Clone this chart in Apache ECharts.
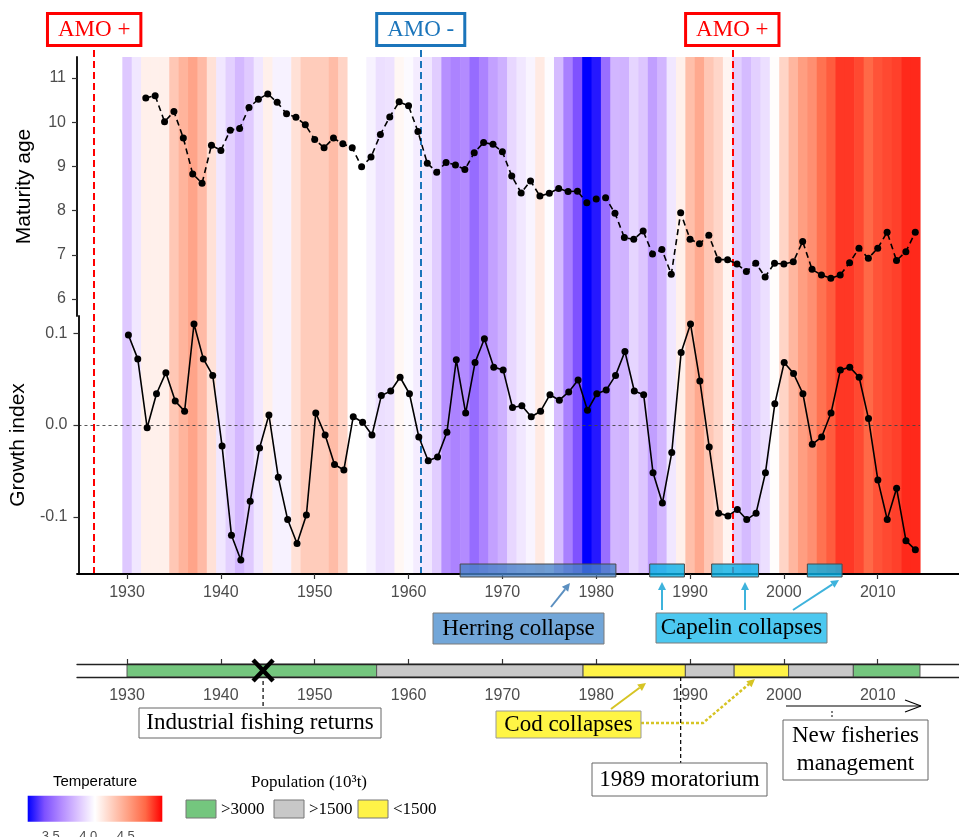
<!DOCTYPE html>
<html><head><meta charset="utf-8">
<script src="https://cdn.jsdelivr.net/npm/echarts@6.0.0/dist/echarts.min.js"></script>
<style>html,body{margin:0;padding:0;background:#fff;}#chart{width:959px;height:837px;}</style>
</head><body><div id="chart"></div>
<script>
// ---------- data ----------
const firstYear = 1930;
const temperature = [
  3.88,4.00,4.16,4.16,4.16,4.35,4.44,4.51,4.41,4.23,
  4.00,3.91,3.82,3.89,4.00,4.16,4.04,4.04,4.23,4.33,
  4.33,4.33,4.40,4.29,4.09,4.09,4.04,3.97,3.98,4.13,
  4.07,4.02,4.00,3.90,3.66,3.61,3.64,3.52,3.61,3.73,
  3.79,3.94,4.00,4.05,4.19,4.08,3.83,3.60,3.42,3.19,
  3.26,3.53,3.81,3.80,3.93,3.87,3.72,3.81,4.00,4.16,
  4.39,4.49,4.35,4.28,4.14,3.91,3.83,3.91,3.97,4.10,
  4.29,4.43,4.54,4.60,4.72,4.79,4.87,4.87,4.83,4.76,
  4.81,4.83,4.85,4.90,4.90
];
const maturityStart = 1932;
const maturityAge = [
  10.55,10.60,10.01,10.24,9.64,8.83,8.62,9.48,
  9.36,9.82,9.86,10.33,10.52,10.64,10.45,10.19,10.11,9.94,
  9.61,9.42,9.64,9.51,9.42,8.99,9.21,9.72,10.12,10.46,
  10.37,9.79,9.07,8.87,9.09,9.03,8.93,9.31,9.54,9.50,
  9.33,8.78,8.40,8.67,8.33,8.39,8.50,8.43,8.44,8.18,
  8.26,8.29,7.94,7.39,7.35,7.54,7.02,7.12,6.56,7.95,
  7.35,7.25,7.44,6.89,6.89,6.79,6.62,6.81,6.50,6.81,
  6.79,6.84,7.30,6.67,6.54,6.47,6.54,6.82,7.15,6.92,
  7.15,7.51,6.87,7.07,7.51
];
const growthStart = 1930;
const growthIndex = [
  0.098,0.072,-0.003,0.034,0.057,0.026,0.015,0.110,0.072,0.054,
  -0.023,-0.120,-0.147,-0.083,-0.025,0.011,-0.057,-0.103,-0.129,-0.098,
  0.013,-0.011,-0.043,-0.049,0.009,0.003,-0.011,0.032,0.037,0.052,
  0.034,-0.013,-0.039,-0.035,-0.008,0.071,0.013,0.068,0.094,0.063,
  0.060,0.019,0.021,0.009,0.015,0.033,0.027,0.036,0.049,0.016,
  0.034,0.038,0.054,0.080,0.037,0.033,-0.052,-0.085,-0.030,0.079,
  0.110,0.048,-0.024,-0.096,-0.099,-0.092,-0.103,-0.096,-0.052,0.023,
  0.068,0.056,0.034,-0.021,-0.013,0.013,0.060,0.063,0.052,0.007,
  -0.060,-0.103,-0.069,-0.126,-0.136
];
const tickYears = [1930,1940,1950,1960,1970,1980,1990,2000,2010];
const maturityTicks = [6,7,8,9,10,11];
const growthTicks = [-0.1,0,0.1];
const amoYears = [1926.5, 1961.3, 1994.5];
const amoLabels = ['AMO +','AMO -','AMO +'];
const collapseStart = [1965.5, 1985.7, 1992.3, 2002.5];
const collapseEnd = [1982.1, 1989.4, 1997.3, 2006.2];
const collapseSpecies = ['Herring','Capelin','Capelin','Capelin'];
const popStart = [1930, 1956.6, 1978.6, 1989.5, 1994.7, 2000.5, 2007.4];
const popEnd = [1956.6, 1978.6, 1989.5, 1994.7, 2000.5, 2007.4, 2014.5];
const popClass = ['>3000','>1500','<1500','>1500','<1500','>1500','>3000'];
const popLegend = ['>3000','>1500','<1500'];
const tempLegendTicks = [3.5, 4.0, 4.5];
const industrialYear = 1944.5;
const moratoriumYear = 1989;
const zeroLineEnd = 2014.5;

// ---------- styling ----------
const XMIN = 1924.67, XMAX = 2018.66;
const TMIN = 3.193, TMAX = 4.988;
const tempColors = ['#0000ff','#7e51ff','#b38bff','#dcc4ff','#ffffff','#ffcfbf','#ff9e81','#ff6846','#ff0000'];
const popColors = ['#74c67e','#c8c8c8','#fff347'];
const amoColors = {'AMO +':'#ff0000','AMO -':'#1b75bb'};
const SANS = 'Liberation Sans';
const SERIF = 'Liberation Serif';
const yearFmt = v => String(Math.round(v));

const chart = echarts.init(document.getElementById('chart'), null, {renderer:'canvas'});

const hiddenX = g => ({gridIndex:g, type:'value', min:XMIN, max:XMAX, show:false});
const hiddenY = g => ({gridIndex:g, type:'value', min:0, max:1, show:false});

const option = {
  animation:false,
  backgroundColor:'#fff',
  grid:[
    {left:77, top:57, width:882, height:517},
    {left:77, top:57, width:882, height:259},
    {left:77, top:316, width:882, height:258},
    {left:77, top:664, width:882, height:13},
    {left:77, top:45, width:882, height:529}
  ],
  visualMap:{type:'continuous', show:false, seriesIndex:0, dimension:1, min:TMIN, max:TMAX, inRange:{color:tempColors}},
  xAxis:[
    {gridIndex:0, type:'value', min:XMIN, max:XMAX, position:'bottom', z:5,
     axisLine:{show:true, onZero:false, lineStyle:{color:'#000', width:1.8}},
     axisTick:{show:true, customValues:tickYears, length:5, lineStyle:{color:'#333', width:1.2}},
     axisLabel:{customValues:tickYears, formatter:yearFmt, margin:11, fontSize:16, color:'#4d4d4d', fontFamily:SANS},
     splitLine:{show:false}},
    hiddenX(1), hiddenX(2),
    {gridIndex:3, type:'value', min:XMIN, max:XMAX, position:'top', z:5,
     axisLine:{show:true, onZero:false, lineStyle:{color:'#222', width:1.3}},
     axisTick:{show:true, customValues:tickYears, length:5, lineStyle:{color:'#333', width:1.2}},
     axisLabel:{show:false}, splitLine:{show:false}},
    {gridIndex:3, type:'value', min:XMIN, max:XMAX, position:'bottom', z:5,
     axisLine:{show:true, onZero:false, lineStyle:{color:'#222', width:1.3}},
     axisTick:{show:false},
     axisLabel:{customValues:tickYears, formatter:yearFmt, margin:11, fontSize:16, color:'#4d4d4d', fontFamily:SANS},
     splitLine:{show:false}},
    hiddenX(4)
  ],
  yAxis:[
    hiddenY(0),
    {gridIndex:1, type:'value', min:5.615, max:11.475, z:5,
     axisLine:{show:true, onZero:false, lineStyle:{color:'#000', width:1.8}},
     axisTick:{show:true, customValues:maturityTicks, length:5, lineStyle:{color:'#333', width:1.2}},
     axisLabel:{customValues:maturityTicks, margin:11, fontSize:16, color:'#4d4d4d', fontFamily:SANS},
     splitLine:{show:false},
     name:'Maturity age', nameLocation:'middle', nameGap:42,
     nameTextStyle:{fontSize:21, color:'#000', fontFamily:SANS}},
    {gridIndex:2, type:'value', min:-0.1623, max:0.1187, z:5,
     axisLine:{show:true, onZero:false, lineStyle:{color:'#000', width:1.8}},
     axisTick:{show:true, customValues:growthTicks, length:5, lineStyle:{color:'#333', width:1.2}},
     axisLabel:{customValues:growthTicks, margin:11, fontSize:16, color:'#4d4d4d', fontFamily:SANS,
       formatter:v => v.toFixed(1)},
     splitLine:{show:false},
     name:'Growth index', nameLocation:'middle', nameGap:42,
     nameTextStyle:{fontSize:21, color:'#000', fontFamily:SANS}},
    hiddenY(3), hiddenY(4)
  ],
  series:[
    {type:'custom', name:'Temperature', xAxisIndex:0, yAxisIndex:0, z:0, silent:true,
     data: temperature.map((t,i)=>[firstYear+i, t]),
     encode:{x:0, y:1},
     renderItem:(params, api)=>{
       const x0 = api.coord([api.value(0)-0.5, 0])[0];
       const x1 = api.coord([api.value(0)+0.5, 0])[0];
       const cs = params.coordSys;
       return {type:'rect', shape:{x:x0, y:cs.y, width:x1-x0+0.6, height:cs.height},
               style:{fill:api.visual('color')}};
     }},
    {type:'line', name:'AMO', xAxisIndex:5, yAxisIndex:4, z:1, data:[], silent:true,
     markLine:{silent:true, symbol:['none','none'], z:1,
       lineStyle:{type:[7,4], width:2},
       label:{show:true, position:'end', distance:1, fontFamily:SERIF, fontSize:23, lineHeight:26,
              backgroundColor:'#fff', borderWidth:3, padding:[2,9,1,9]},
       data: amoYears.map((y,i)=>({xAxis:y,
         lineStyle:{color:amoColors[amoLabels[i]]},
         label:{formatter:amoLabels[i], color:amoColors[amoLabels[i]], borderColor:amoColors[amoLabels[i]]}}))
     }},
    {type:'line', name:'Maturity age', xAxisIndex:1, yAxisIndex:1, z:5,
     data: maturityAge.map((v,i)=>[maturityStart+i, v]),
     symbol:'circle', symbolSize:7, showSymbol:true,
     itemStyle:{color:'#000'}, lineStyle:{color:'#000', width:1.6, type:[6,4]}},
    {type:'line', name:'Growth index', xAxisIndex:2, yAxisIndex:2, z:5,
     data: growthIndex.map((v,i)=>[growthStart+i, v]),
     symbol:'circle', symbolSize:7, showSymbol:true,
     itemStyle:{color:'#000'}, lineStyle:{color:'#000', width:1.6},
     markLine:{silent:true, symbol:['none','none'], label:{show:false},
       lineStyle:{color:'#444', width:0.9, type:[3,3]},
       data:[[{coord:[XMIN,0]},{coord:[zeroLineEnd,0]}]]}},
    {type:'custom', name:'Collapses', xAxisIndex:0, yAxisIndex:0, z:6, silent:true,
     data: collapseStart.map((s,i)=>[s, collapseEnd[i], i]),
     renderItem:(params, api)=>{
       const s = api.coord([api.value(0), 0])[0], e = api.coord([api.value(1), 0])[0];
       const cs = params.coordSys;
       const herring = collapseSpecies[api.value(2)] === 'Herring';
       return {type:'rect', shape:{x:s, y:cs.y+cs.height-10, width:e-s, height:13},
         style:{fill: herring ? 'rgba(70,130,200,0.78)' : 'rgba(10,177,230,0.8)', stroke:'#4a4a4a', lineWidth:1}};
     }},
    {type:'custom', name:'Population', xAxisIndex:3, yAxisIndex:3, z:2, silent:true,
     data: popStart.map((s,i)=>[s, popEnd[i], popLegend.indexOf(popClass[i])]),
     renderItem:(params, api)=>{
       const s = api.coord([api.value(0), 0])[0], e = api.coord([api.value(1), 0])[0];
       const cs = params.coordSys;
       return {type:'rect', shape:{x:s, y:cs.y, width:e-s, height:cs.height},
         style:{fill: popColors[api.value(2)], stroke:'#555', lineWidth:1}};
     }}
  ]
};
chart.setOption(option);

// ---------- annotations ----------
const px = y => chart.convertToPixel({xAxisIndex:0}, y);
const G = [];
function txt(x, y, s, font, fill, align){
  G.push({type:'text', x, y, z:100, style:{text:s, font, fill:fill||'#000', align:align||'center', verticalAlign:'middle'}});
}
function box(x, y, w, h, fill, stroke){
  G.push({type:'rect', z:99, shape:{x, y, width:w, height:h}, style:{fill, stroke:stroke||'#555', lineWidth:1}});
}
function line(x1, y1, x2, y2, stroke, w, dash){
  G.push({type:'line', z:98, shape:{x1, y1, x2, y2}, style:{stroke, lineWidth:w||1, lineDash:dash||null}});
}
function arrow(x1, y1, x2, y2, color, w, head, dash){
  const a = Math.atan2(y2-y1, x2-x1), h = head||8, hw = h*0.5;
  const bx = x2 - h*Math.cos(a), by = y2 - h*Math.sin(a);
  const ox = -Math.sin(a)*hw, oy = Math.cos(a)*hw;
  line(x1, y1, bx, by, color, w, dash);
  G.push({type:'polygon', z:98, shape:{points:[[x2,y2],[bx+ox,by+oy],[bx-ox,by-oy]]}, style:{fill:color}});
}
const F23 = '23px "Liberation Serif"';

// Herring / capelin labels
box(433, 613, 171, 31, '#72a6d8', '#7a7a7a');
txt(518.5, 629, 'Herring collapse', F23);
arrow(551, 607, 570, 583, '#5b8fc0', 2, 8);
box(656, 613, 171, 30, '#4cc8f0', '#7a7a7a');
txt(741.5, 628, 'Capelin collapses', F23);
arrow(662, 610, 662, 582, '#3eb3dc', 2, 8);
arrow(745, 610, 745, 582, '#3eb3dc', 2, 8);
arrow(793, 610, 839, 580, '#3eb3dc', 2, 8);

// Industrial fishing returns
const xi = px(industrialYear);
G.push({type:'line', z:101, shape:{x1:xi-10, y1:660, x2:xi+10, y2:681}, style:{stroke:'#000', lineWidth:4.5}});
G.push({type:'line', z:101, shape:{x1:xi-10, y1:681, x2:xi+10, y2:660}, style:{stroke:'#000', lineWidth:4.5}});
line(xi, 681, xi, 708, '#000', 1.2, [4,3]);
box(139, 708, 242, 30, '#fff', '#666');
txt(260, 723, 'Industrial fishing returns', F23);

// Cod collapses
arrow(611, 709, 646, 683, '#d6c424', 2, 8);
G.push({type:'polyline', z:98, shape:{points:[[641,723],[703,723],[749,684]]}, style:{stroke:'#d6c424', lineWidth:2.5, lineDash:[3,2], fill:null}});
arrow(748, 685, 755, 679, '#d6c424', 2, 8);
box(496, 711, 145, 27, '#fff545', '#999');
txt(568.5, 725, 'Cod collapses', F23);

// 1989 moratorium
const xm = px(moratoriumYear);
line(xm, 677, xm, 763, '#000', 1.2, [4,3]);
box(592, 763, 175, 33, '#fff', '#666');
txt(679.5, 780, '1989 moratorium', F23);

// New fisheries management
line(786, 706, 921, 706, '#000', 1.2);
line(921, 706, 905, 700, '#000', 1.2);
line(921, 706, 905, 712, '#000', 1.2);
line(832, 711, 832, 717, '#000', 1, [2,2]);
box(783, 720, 145, 60, '#fff', '#666');
txt(855.5, 736, 'New fisheries', F23);
txt(855.5, 764, 'management', F23);

// Temperature legend
const LX0 = 27.7, LX1 = 162.3, LY0 = 795.7, LH = 26;
const lx = v => LX0 + (v - TMIN)/(TMAX - TMIN)*(LX1 - LX0);
txt((LX0+LX1)/2, 782, 'Temperature', '15px "Liberation Sans"', '#000');
G.push({type:'rect', z:99, shape:{x:LX0, y:LY0, width:LX1-LX0, height:LH},
  style:{fill:new echarts.graphic.LinearGradient(0,0,1,0, tempColors.map((c,i)=>({offset:i/(tempColors.length-1), color:c})))}});
tempLegendTicks.forEach(v=>{
  const x = lx(v);
  line(x, LY0, x, LY0+4, '#fff', 1);
  line(x, LY0+LH-4, x, LY0+LH, '#fff', 1);
  G.push({type:'text', x, y:830, z:100, style:{text:v.toFixed(1), font:'13px "Liberation Sans"', fill:'#4d4d4d', align:'center', verticalAlign:'top'}});
});

// Population legend
txt(309, 783, 'Population (10\u00b3t)', '17px "Liberation Serif"', '#000');
const swX = [186, 274, 358];
popLegend.forEach((p,i)=>{
  G.push({type:'rect', z:99, shape:{x:swX[i], y:800, width:30, height:18}, style:{fill:popColors[i], stroke:'#777', lineWidth:1}});
  txt(swX[i]+35, 809.5, p, '17px "Liberation Serif"', '#000', 'left');
});

chart.setOption({graphic:G});
</script></body></html>
